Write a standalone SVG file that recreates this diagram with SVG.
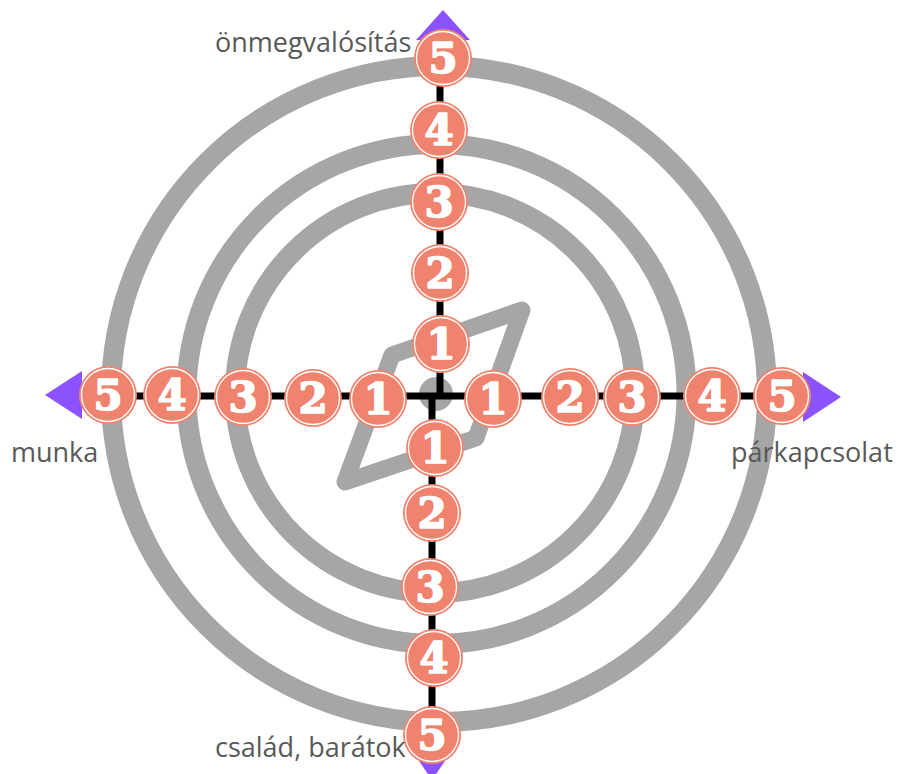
<svg xmlns="http://www.w3.org/2000/svg" width="898" height="774" viewBox="0 0 898 774">
<style>
.ring{fill:none;stroke:#a6a6a6;stroke-width:20}
.para{fill:none;stroke:#a6a6a6;stroke-width:17;stroke-linejoin:round}
.axis{fill:none;stroke:#000;stroke-width:7}
.arrow{fill:#8c52ff}
.b{fill:#ef836e}
.r{fill:none;stroke:#fff;stroke-width:1.3}
.n{font-family:"DejaVu Serif",serif;font-weight:bold;font-size:42px;fill:#fff;stroke:#fff;stroke-width:1.6;stroke-linejoin:round;text-anchor:middle}
.lbl{font-family:"Open Sans","Noto Sans",sans-serif;font-size:27px;fill:#595959}
</style>
<rect width="898" height="774" fill="#fff"/>
<g id="background">
<circle class="ring" cx="439" cy="394" r="328"/>
<circle class="ring" cx="436.5" cy="394" r="250"/>
<circle class="ring" cx="435" cy="393" r="200"/>
<path class="para" d="M522,310 L392,355 L345,482 L476,438 Z"/>
<circle cx="436" cy="394" r="17" fill="#a6a6a6"/>
</g>
<g id="connectors">
<path class="axis" d="M440,60 V397"/>
<path class="axis" d="M432,394 V736"/>
<path class="axis" d="M100,396 H790"/>
<polygon class="arrow" points="443,10 470,40 416,40"/>
<polygon class="arrow" points="45,395 82,371 82,419"/>
<polygon class="arrow" points="841,397 803,372 803,422"/>
<polygon class="arrow" points="432,780 406,742 458,742"/>
</g>
<g id="axis-top">
<g id="t5"><circle class="b" cx="443" cy="58" r="29"/><circle class="r" cx="443" cy="58" r="26.5"/><text class="n" x="443" y="73">5</text></g>
<g id="t4"><circle class="b" cx="439" cy="130" r="29"/><circle class="r" cx="439" cy="130" r="26.5"/><text class="n" x="439" y="145">4</text></g>
<g id="t3"><circle class="b" cx="439" cy="202" r="29"/><circle class="r" cx="439" cy="202" r="26.5"/><text class="n" x="439" y="217">3</text></g>
<g id="t2"><circle class="b" cx="440" cy="273" r="29"/><circle class="r" cx="440" cy="273" r="26.5"/><text class="n" x="440" y="288">2</text></g>
<g id="t1"><circle class="b" cx="441" cy="344" r="29"/><circle class="r" cx="441" cy="344" r="26.5"/><text class="n" x="441" y="359">1</text></g>
</g>
<g id="axis-left">
<g id="l1"><circle class="b" cx="378" cy="399" r="29"/><circle class="r" cx="378" cy="399" r="26.5"/><text class="n" x="378" y="414">1</text></g>
<g id="l2"><circle class="b" cx="313" cy="398" r="29"/><circle class="r" cx="313" cy="398" r="26.5"/><text class="n" x="313" y="413">2</text></g>
<g id="l3"><circle class="b" cx="243" cy="397" r="29"/><circle class="r" cx="243" cy="397" r="26.5"/><text class="n" x="243" y="412">3</text></g>
<g id="l4"><circle class="b" cx="172" cy="395" r="29"/><circle class="r" cx="172" cy="395" r="26.5"/><text class="n" x="172" y="410">4</text></g>
<g id="l5"><circle class="b" cx="108" cy="395" r="29"/><circle class="r" cx="108" cy="395" r="26.5"/><text class="n" x="108" y="410">5</text></g>
</g>
<g id="axis-right">
<g id="r1"><circle class="b" cx="493" cy="399" r="29"/><circle class="r" cx="493" cy="399" r="26.5"/><text class="n" x="493" y="414">1</text></g>
<g id="r2"><circle class="b" cx="570" cy="397" r="29"/><circle class="r" cx="570" cy="397" r="26.5"/><text class="n" x="570" y="412">2</text></g>
<g id="r3"><circle class="b" cx="632" cy="397" r="29"/><circle class="r" cx="632" cy="397" r="26.5"/><text class="n" x="632" y="412">3</text></g>
<g id="r4"><circle class="b" cx="712" cy="396" r="29"/><circle class="r" cx="712" cy="396" r="26.5"/><text class="n" x="712" y="411">4</text></g>
<g id="r5"><circle class="b" cx="782" cy="396" r="29"/><circle class="r" cx="782" cy="396" r="26.5"/><text class="n" x="782" y="411">5</text></g>
</g>
<g id="axis-bottom">
<g id="b1"><circle class="b" cx="435" cy="448" r="29"/><circle class="r" cx="435" cy="448" r="26.5"/><text class="n" x="435" y="463">1</text></g>
<g id="b2"><circle class="b" cx="432" cy="513" r="29"/><circle class="r" cx="432" cy="513" r="26.5"/><text class="n" x="432" y="528">2</text></g>
<g id="b3"><circle class="b" cx="430" cy="587" r="29"/><circle class="r" cx="430" cy="587" r="26.5"/><text class="n" x="430" y="602">3</text></g>
<g id="b4"><circle class="b" cx="434" cy="658" r="29"/><circle class="r" cx="434" cy="658" r="26.5"/><text class="n" x="434" y="673">4</text></g>
<g id="b5"><circle class="b" cx="432" cy="735" r="29"/><circle class="r" cx="432" cy="735" r="26.5"/><text class="n" x="432" y="750">5</text></g>
</g>
<g id="labels">
<text class="lbl" x="215" y="52">önmegvalósítás</text>
<text class="lbl" x="11" y="462">munka</text>
<text class="lbl" x="731" y="462">párkapcsolat</text>
<text class="lbl" x="215" y="757">család, barátok</text>
</g>
</svg>
